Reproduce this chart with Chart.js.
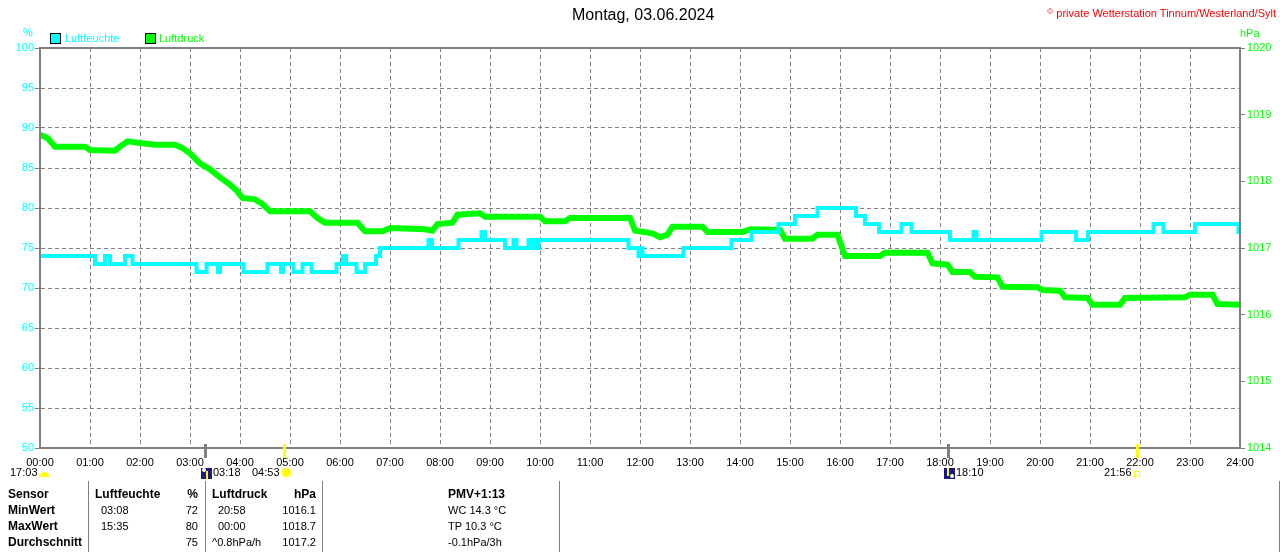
<!DOCTYPE html>
<html>
<head>
<meta charset="utf-8">
<title>Montag, 03.06.2024</title>
<script src="https://cdn.jsdelivr.net/npm/chart.js@4.4.1/dist/chart.umd.min.js"></script>
<style>
body { margin: 0; background: #fff; font-family: 'Liberation Sans', Arial, sans-serif; }
#wrap { position: relative; width: 1280px; height: 552px; overflow: hidden; }
#wrap canvas { position: absolute; left: 0; top: 0; }
.t { position: absolute; white-space: nowrap; font-size: 11px; line-height: 14px; color: #000; }
.b { font-weight: bold; font-size: 12px; line-height: 16px; }
.row { line-height: 16px; }
.vl { position: absolute; top: 481px; height: 71px; border-left: 1px solid #808080; }
.box { position: absolute; width: 9px; height: 9px; border: 1px solid #000; }
</style>
</head>
<body>
<div id="wrap">
    <canvas id="chart" width="1280" height="552"></canvas>

    <div class="t" style="left:572px;top:6px;font-size:16px;line-height:18px;">Montag, 03.06.2024</div>
    <div class="t" style="right:4px;top:5px;color:#ff0000;"><span style="font-size:8px;vertical-align:3px;">©</span> private Wetterstation Tinnum/Westerland/Sylt</div>

    <div class="t" style="left:23px;top:25px;color:#00ffff;">%</div>
    <div class="box" style="left:50px;top:33px;background:#00ffff;"></div>
    <div class="t" style="left:65px;top:31px;color:#00ffff;">Luftfeuchte</div>
    <div class="box" style="left:145px;top:33px;background:#00ff00;"></div>
    <div class="t" style="left:159px;top:31px;color:#00ff00;">Luftdruck</div>
    <div class="t" style="left:1240px;top:26px;color:#00ff00;">hPa</div>

    <!-- Sonne / Mond -->
    <div class="t" style="left:10px;top:465px;">17:03</div>
    <div style="position:absolute;left:40px;top:472px;width:9px;height:5px;border-radius:5px 5px 0 0;background:#ffff00;"></div>
    <div style="position:absolute;left:201px;top:468px;width:11px;height:11px;background:#1a1a80;">
        <div style="position:absolute;left:1px;top:0;width:4px;height:4px;border-radius:2px;background:#fff;"></div>
        <div style="position:absolute;left:5px;top:3px;width:2px;height:8px;background:#ffff00;"></div>
    </div>
    <div class="t" style="left:213px;top:465px;">03:18</div>
    <div class="t" style="left:252px;top:465px;">04:53</div>
    <div style="position:absolute;left:282px;top:468px;width:9px;height:9px;border-radius:5px;background:#ffff00;box-shadow:0 0 2px #ffff80;"></div>
    <div style="position:absolute;left:944px;top:468px;width:11px;height:11px;background:#1a1a80;">
        <div style="position:absolute;left:6px;top:6px;width:4px;height:4px;border-radius:2px;background:#fff;"></div>
        <div style="position:absolute;left:3px;top:0;width:2px;height:8px;background:#ffff00;"></div>
    </div>
    <div class="t" style="left:956px;top:465px;">18:10</div>
    <div class="t" style="left:1104px;top:465px;">21:56</div>
    <div style="position:absolute;left:1134px;top:471px;width:4px;height:4px;border:1px solid #ffff00;"></div>

    <!-- Tabelle -->
    <div class="vl" style="left:88px;"></div>
    <div class="vl" style="left:205px;"></div>
    <div class="vl" style="left:322px;"></div>
    <div class="vl" style="left:559px;"></div>
    <div class="vl" style="left:1279px;"></div>

    <div class="t b" style="left:8px;top:486px;">Sensor</div>
    <div class="t b" style="left:8px;top:502px;">MinWert</div>
    <div class="t b" style="left:8px;top:518px;">MaxWert</div>
    <div class="t b" style="left:8px;top:534px;">Durchschnitt</div>

    <div class="t b" style="left:95px;top:486px;">Luftfeuchte</div>
    <div class="t b" style="right:1082px;top:486px;">%</div>
    <div class="t row" style="left:101px;top:502px;">03:08</div>
    <div class="t row" style="right:1082px;top:502px;">72</div>
    <div class="t row" style="left:101px;top:518px;">15:35</div>
    <div class="t row" style="right:1082px;top:518px;">80</div>
    <div class="t row" style="right:1082px;top:534px;">75</div>

    <div class="t b" style="left:212px;top:486px;">Luftdruck</div>
    <div class="t b" style="right:964px;top:486px;">hPa</div>
    <div class="t row" style="left:218px;top:502px;">20:58</div>
    <div class="t row" style="right:964px;top:502px;">1016.1</div>
    <div class="t row" style="left:218px;top:518px;">00:00</div>
    <div class="t row" style="right:964px;top:518px;">1018.7</div>
    <div class="t row" style="left:212px;top:534px;">^0.8hPa/h</div>
    <div class="t row" style="right:964px;top:534px;">1017.2</div>

    <div class="t b" style="left:448px;top:486px;">PMV+1:13</div>
    <div class="t row" style="left:448px;top:502px;">WC 14.3 °C</div>
    <div class="t row" style="left:448px;top:518px;">TP 10.3 °C</div>
    <div class="t row" style="left:448px;top:534px;">-0.1hPa/3h</div>
</div>

<script>
// Luftfeuchte: Zeitpunkt (Stunden) ab dem der Wert gilt
const feuchteZeit = [0, 1.1, 1.3, 1.4, 1.7, 1.85, 3.13, 3.33, 3.56, 3.6, 4.07, 4.55, 4.82, 4.86, 5.07, 5.25, 5.43, 5.93, 6.06, 6.12,
    6.33, 6.5, 6.72, 6.8, 7.77, 7.84, 8.37, 8.83, 8.9, 9.3, 9.47, 9.53, 9.77, 9.8, 9.85, 9.9, 9.97, 11.77, 11.97, 12.0,
    12.05, 12.87, 13.83, 14.23, 14.77, 15.1, 15.55, 16.32, 16.5, 16.78, 17.23, 17.43, 18.2, 18.67, 18.73, 20.03, 20.72, 20.96, 22.27, 22.47,
    23.1, 23.97, 24];
const feuchteWert = [74, 73, 74, 73, 74, 73, 72, 73, 72, 73, 72, 73, 72, 73, 72, 73, 72, 73, 74, 73,
    72, 73, 74, 75, 76, 75, 76, 77, 76, 75, 76, 75, 76, 75, 76, 75, 76, 75, 74, 75,
    74, 75, 76, 77, 78, 79, 80, 79, 78, 77, 78, 77, 76, 77, 76, 77, 76, 77, 78, 77,
    78, 77, 77];

// Luftdruck in hPa
const druckZeit = [0, 0.15, 0.3, 0.9, 1.0, 1.5, 1.6, 1.75, 1.95, 2.3, 2.7, 2.85, 3.0, 3.2, 3.4, 3.6, 3.8, 3.95, 4.05, 4.3,
    4.45, 4.6, 5.4, 5.55, 5.7, 6.35, 6.5, 6.85, 7.0, 7.7, 7.85, 7.95, 8.25, 8.35, 8.8, 8.9, 10.0, 10.1, 10.5, 10.6,
    11.8, 11.9, 12.25, 12.4, 12.55, 12.65, 13.25, 13.35, 14.05, 14.2, 14.8, 14.9, 15.45, 15.55, 15.95, 16.1, 16.8, 16.9, 17.75, 17.85,
    18.15, 18.25, 18.6, 18.7, 19.15, 19.25, 19.95, 20.05, 20.4, 20.5, 20.95, 21.05, 21.6, 21.7, 22.9, 23.0, 23.45, 23.55, 24.0];
const druckWert = [1018.70, 1018.65, 1018.52, 1018.52, 1018.47, 1018.46, 1018.52, 1018.60, 1018.58, 1018.55, 1018.55, 1018.50, 1018.42, 1018.27, 1018.18, 1018.06, 1017.95, 1017.85, 1017.75, 1017.73,
    1017.66, 1017.55, 1017.55, 1017.45, 1017.38, 1017.38, 1017.25, 1017.25, 1017.30, 1017.28, 1017.26, 1017.36, 1017.38, 1017.50, 1017.52, 1017.47, 1017.47, 1017.40, 1017.40, 1017.45,
    1017.45, 1017.26, 1017.22, 1017.16, 1017.20, 1017.32, 1017.32, 1017.24, 1017.24, 1017.28, 1017.27, 1017.14, 1017.14, 1017.20, 1017.20, 1016.88, 1016.88, 1016.93, 1016.93, 1016.77,
    1016.75, 1016.64, 1016.64, 1016.57, 1016.56, 1016.42, 1016.41, 1016.37, 1016.36, 1016.26, 1016.25, 1016.15, 1016.15, 1016.25, 1016.26, 1016.30, 1016.30, 1016.16, 1016.15];

// Mond- und Sonnenzeiten (Markierungen an der Zeitachse)
const ereignisZeit = [3.3, 4.883, 18.167, 21.933];
const ereignisFarbe = ['#808080', '#ffff00', '#808080', '#ffff00'];

const GRAU = '#808080';

const rahmenPlugin = {
    id: 'rahmen',
    afterDraw(chart) {
        const { ctx, chartArea: a, scales } = chart;
        ctx.save();
        ctx.strokeStyle = GRAU;
        ctx.lineWidth = 2;
        ctx.strokeRect(a.left, a.top, a.right - a.left, a.bottom - a.top);
        ctx.lineWidth = 3;
        ereignisZeit.forEach((t, i) => {
            const x = Math.round(scales.x.getPixelForValue(t)) + 0.5;
            ctx.strokeStyle = ereignisFarbe[i];
            ctx.beginPath();
            ctx.moveTo(x, a.bottom - 4);
            ctx.lineTo(x, a.bottom + 10);
            ctx.stroke();
        });
        ctx.restore();
    }
};

Chart.defaults.font.family = "'Liberation Sans', Arial, sans-serif";
Chart.defaults.font.size = 11;

new Chart(document.getElementById('chart').getContext('2d'), {
    type: 'line',
    data: {
        datasets: [
            {
                label: 'Luftfeuchte',
                data: feuchteZeit.map((t, i) => ({ x: t, y: feuchteWert[i] })),
                yAxisID: 'y',
                borderColor: '#00ffff',
                borderWidth: 4,
                stepped: 'before',
                pointRadius: 0
            },
            {
                label: 'Luftdruck',
                data: druckZeit.map((t, i) => ({ x: t, y: druckWert[i] })),
                yAxisID: 'y2',
                borderColor: '#00ff00',
                borderWidth: 6,
                tension: 0,
                pointRadius: 0
            }
        ]
    },
    options: {
        responsive: false,
        animation: false,
        events: [],
        layout: { padding: { top: 48, left: 0, right: 0, bottom: 0 } },
        plugins: { legend: { display: false }, tooltip: { enabled: false } },
        scales: {
            x: {
                type: 'linear',
                min: 0,
                max: 24,
                afterFit(s) { s.height = 104; },
                grid: { color: GRAU, lineWidth: 1, drawTicks: false },
                border: { color: GRAU, width: 2, dash: [4, 3] },
                ticks: {
                    stepSize: 1,
                    autoSkip: false,
                    maxRotation: 0,
                    padding: 8,
                    color: '#000',
                    callback: v => String(v).padStart(2, '0') + ':00'
                }
            },
            y: {
                position: 'left',
                min: 50,
                max: 100,
                afterFit(s) { s.width = 40; },
                grid: { color: GRAU, lineWidth: 1, tickLength: 5, tickColor: GRAU, tickWidth: 1 },
                border: { color: GRAU, width: 2, dash: [4, 3] },
                ticks: { stepSize: 5, padding: 1, color: '#00ffff' }
            },
            y2: {
                position: 'right',
                min: 1014,
                max: 1020,
                afterFit(s) { s.width = 40; },
                grid: { drawOnChartArea: false, tickLength: 5, tickColor: GRAU, tickWidth: 1 },
                border: { color: GRAU, width: 2 },
                ticks: { stepSize: 1, padding: 2, color: '#00ff00', callback: v => String(v) }
            }
        }
    },
    plugins: [rahmenPlugin]
});
</script>
</body>
</html>
